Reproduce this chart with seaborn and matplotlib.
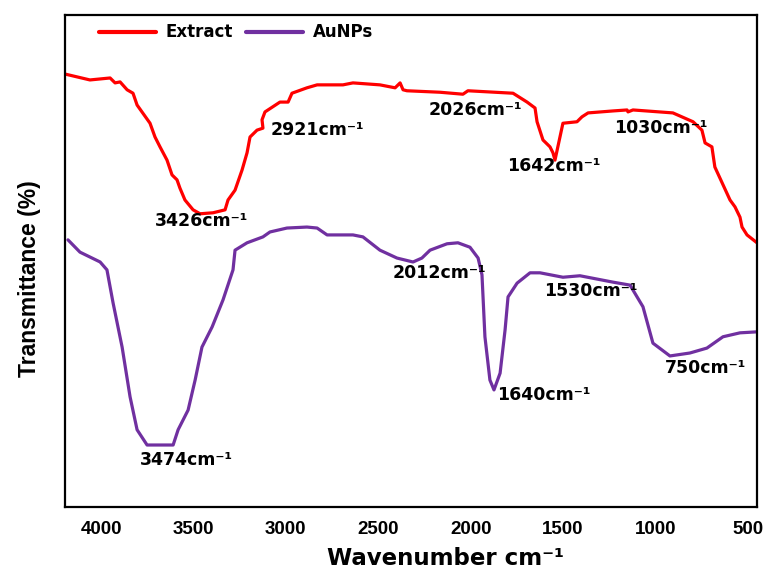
import numpy as np
import pandas as pd
import matplotlib
matplotlib.use("Agg")
import matplotlib.pyplot as plt
import seaborn as sns

# FTIR spectra: wavenumber (cm-1) and transmittance (arbitrary % scale)
extract_wn = [4195, 4060, 3951, 3924, 3897, 3859, 3827, 3805, 3735, 3708, 3681, 3643,
              3616, 3589, 3573, 3546, 3502, 3464, 3394, 3329, 3313, 3275, 3237, 3210,
              3194, 3156, 3124, 3129, 3113, 3032, 2988, 2967, 2886, 2831, 2691, 2637,
              2491, 2409, 2382, 2366, 2345, 2166, 2042, 2015, 1771, 1695, 1652, 1641,
              1609, 1571, 1555, 1544, 1501, 1425, 1398, 1365, 1230, 1154, 1149, 1122,
              906, 797, 749, 732, 695, 679, 597, 570, 543, 532, 505, 451]
extract_t = [88.0, 86.8, 87.2, 86.2, 86.4, 84.8, 84.1, 81.7, 78.0, 75.2, 73.2, 70.5,
             67.5, 66.5, 64.8, 62.4, 60.4, 59.6, 59.8, 60.4, 62.4, 64.4, 68.5, 72.0,
             75.2, 76.6, 77.0, 78.7, 80.3, 82.3, 82.3, 84.1, 85.2, 85.8, 85.8, 86.2,
             85.8, 85.2, 86.2, 84.8, 84.6, 84.3, 83.9, 84.6, 84.1, 82.3, 81.1, 78.3,
             74.6, 73.2, 72.0, 70.5, 78.0, 78.3, 79.3, 80.1, 80.5, 80.7, 80.3, 80.7,
             80.1, 78.3, 76.6, 74.0, 73.2, 69.1, 62.4, 61.0, 58.9, 56.9, 55.3, 53.7]

aunps_wn = [4179, 4114, 4005, 3968, 3935, 3886, 3843, 3805, 3751, 3610, 3583, 3529,
            3491, 3454, 3399, 3340, 3286, 3275, 3210, 3124, 3086, 2994, 2886, 2831,
            2777, 2637, 2583, 2491, 2399, 2312, 2264, 2220, 2128, 2069, 2004, 1960,
            1939, 1923, 1896, 1874, 1841, 1814, 1798, 1749, 1679, 1625, 1501, 1409,
            1230, 1138, 1068, 1014, 922, 814, 722, 635, 543, 451]
aunps_t = [54.3, 51.8, 49.8, 48.2, 41.5, 32.5, 22.4, 15.7, 12.6, 12.6, 15.7, 19.7,
           25.8, 32.5, 36.6, 42.1, 48.2, 52.2, 53.7, 54.9, 55.9, 56.7, 56.9, 56.7,
           55.3, 55.3, 54.9, 52.2, 50.6, 49.8, 50.6, 52.2, 53.5, 53.7, 52.8, 50.6,
           47.2, 34.6, 25.8, 23.8, 27.2, 36.0, 42.7, 45.5, 47.6, 47.6, 46.7, 47.0,
           45.7, 45.1, 40.7, 33.3, 30.7, 31.3, 32.3, 34.6, 35.4, 35.6]

series_names = ["Extract", "AuNPs"]
series_colors = ["#FF0000", "#7030A0"]

# Peak annotations: label, wavenumber position, transmittance position
peak_labels = ["3426", "2921", "2026", "1642", "1030",
               "3474", "2012", "1640", "1530", "750"]
peak_x = [3454, 2831, 1977, 1549, 970, 3540, 2171, 1603, 1349, 727]
peak_y = [58.1, 76.6, 80.7, 69.3, 77.0, 9.6, 47.6, 22.8, 43.9, 28.3]

x_ticks = [4000, 3500, 3000, 2500, 2000, 1500, 1000, 500]

df = pd.concat([
    pd.DataFrame({"wn": extract_wn, "T": extract_t, "Sample": series_names[0]}),
    pd.DataFrame({"wn": aunps_wn, "T": aunps_t, "Sample": series_names[1]}),
], ignore_index=True)

sns.set_theme(style="white")

fig = plt.figure(figsize=(7.63, 5.72), dpi=100)
ax = fig.add_axes([65 / 763, 1 - 507 / 572, 692 / 763, 492 / 572])

sns.lineplot(data=df, x="wn", y="T", hue="Sample", palette=series_colors,
             hue_order=series_names, sort=False, estimator=None,
             linewidth=2.3, ax=ax)

ax.set_xlim(4195, 451)
ax.set_ylim(0, 100)
ax.set_xticks(x_ticks)
ax.set_xticklabels([str(t) for t in x_ticks], fontfamily="Liberation Sans",
                   fontweight="bold", fontsize=13.5, color="black")
ax.set_yticks([])
ax.tick_params(axis="x", length=0, pad=10)

for s in ax.spines.values():
    s.set_color("black")
    s.set_linewidth(1.6)

ax.set_xlabel("Wavenumber cm\u207b\u00b9", fontfamily="DejaVu Sans",
              fontweight="bold", fontsize=16.5, color="black")
ax.xaxis.set_label_coords(0.55, -58 / 492)
ax.xaxis.label.set_va("baseline")

ax.set_ylabel("Transmittance (%)", fontfamily="Liberation Sans",
              fontweight="bold", fontsize=16.5, color="black")
ax.yaxis.set_label_coords(-35 / 692, 0.465)
ax.yaxis.label.set_va("center")

for lab, x, y in zip(peak_labels, peak_x, peak_y):
    ax.text(x, y, lab + "cm\u207b\u00b9", ha="center", va="center",
            fontfamily="DejaVu Sans", fontweight="bold", fontsize=12.5,
            color="black")

leg = ax.legend(loc="upper left", bbox_to_anchor=(0.037, 1.0), ncol=2,
                frameon=False, handlelength=3.4, handletextpad=0.6,
                columnspacing=0.8, borderaxespad=0.1,
                prop={"family": "DejaVu Sans", "weight": "bold", "size": 12})
for line in leg.get_lines():
    line.set_linewidth(3)
for txt in leg.get_texts():
    txt.set_color("black")

fig.savefig("out.png", dpi=100)
